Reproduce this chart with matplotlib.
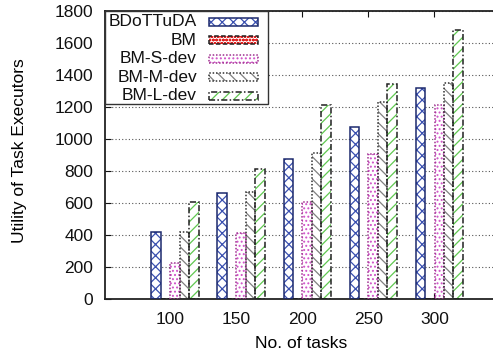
import numpy as np
import matplotlib
matplotlib.use("Agg")
import matplotlib.pyplot as plt
from matplotlib.patches import Rectangle

plt.rcParams['font.family'] = ['Liberation Sans', 'DejaVu Sans']
plt.rcParams['hatch.linewidth'] = 0.9

tasks = ['100', '150', '200', '250', '300']
series = ['BDoTTuDA', 'BM', 'BM-S-dev', 'BM-M-dev', 'BM-L-dev']
bdottuda = [421, 660, 873, 1073, 1321]
bm = [0, 0, 0, 0, 0]
bm_s = [222, 410, 608, 906, 1215]
bm_m = [417, 668, 912, 1233, 1347]
bm_l = [608, 810, 1212, 1342, 1681]
values = [bdottuda, bm, bm_s, bm_m, bm_l]

# (hatch, hatch colour, edge colour, edge style)
styles = [
    ('xxx', '#3a50b0', '#1c2a6e', '-'),
    ('ooooo', '#e02020', '#202020', (0, (3, 1.5))),
    ('....', '#d050c8', '#a03090', (0, (1, 1.2))),
    ('\\\\\\', '#808080', '#303030', (0, (1, 1.2))),
    ('///', '#60c850', '#202020', (0, (4, 1.5, 1, 1.5))),
]

W, H = 493, 359
fig = plt.figure(figsize=(W / 100, H / 100), dpi=100)
# the right border of the plot is cut off in the original picture
ax = fig.add_axes([105 / W, 1 - 299 / H, (505 - 105) / W, (299 - 11) / H])

x = np.arange(len(tasks))
bw = 1 / 7
for j, (vals, st) in enumerate(zip(values, styles)):
    pos = x + (j - 2) * bw
    hatch, hc, ec, ls = st
    ax.bar(pos, vals, bw, facecolor='white', edgecolor=hc, hatch=hatch,
           linewidth=0, zorder=2)
    ax.bar(pos, vals, bw, fill=False, edgecolor=ec, linestyle=ls,
           linewidth=1.1, zorder=3)

ax.set_xlim(-1.06, 4.995)
ax.set_ylim(0, 1800)
ax.set_yticks(range(0, 1801, 200))
ax.set_xticks(x - 0.075)
ax.set_xticklabels(tasks)
ax.tick_params(direction='in', length=4, width=0.8, top=True, right=False,
               labelsize=12.5, colors='#111111')
ax.tick_params(axis='y', pad=8.5)
ax.tick_params(axis='x', pad=9)
ax.grid(axis='y', linestyle=(0, (1, 2)), color='#555555', linewidth=0.8, zorder=1)
for s in ax.spines.values():
    s.set_linewidth(1.3)
    s.set_color('#222222')

ax.set_ylabel('Utility of Task Executors', fontsize=12.5)
ax.yaxis.set_label_coords((27 - 105) / 400, (299 - 151) / 288)
ax.set_xlabel('No. of tasks', fontsize=12.5)
ax.xaxis.set_label_coords((301 - 105) / 400, -0.128)

# gnuplot style key: right aligned text, sample on the right
def fx(px):
    return px / W

def fy(py):
    return 1 - py / H

box = Rectangle((fx(105), fy(104)), fx(268) - fx(105), fy(11) - fy(104),
                transform=fig.transFigure, facecolor='white', edgecolor='#333333',
                linewidth=1.0, zorder=5)
fig.add_artist(box)
rows = [21.7, 40.2, 58.7, 77.2, 95.7]
for name, st, ry in zip(series, styles, rows):
    hatch, hc, ec, ls = st
    fig.text(fx(197), fy(ry), name, ha='right', va='center', fontsize=12.5,
             color='#111111', zorder=6)
    r1 = Rectangle((fx(209), fy(ry + 4)), fx(258) - fx(209), fy(ry - 4) - fy(ry + 4),
                   transform=fig.transFigure, facecolor='white', edgecolor=hc,
                   hatch=hatch, linewidth=0, zorder=6)
    r2 = Rectangle((fx(209), fy(ry + 4)), fx(258) - fx(209), fy(ry - 4) - fy(ry + 4),
                   transform=fig.transFigure, fill=False, edgecolor=ec,
                   linestyle=ls, linewidth=1.1, zorder=7)
    fig.add_artist(r1)
    fig.add_artist(r2)

fig.savefig('out.png', dpi=100)
